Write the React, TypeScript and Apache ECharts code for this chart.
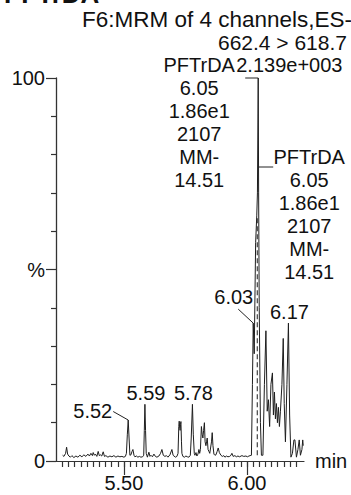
import React, { useEffect, useRef } from "react";
import * as echarts from "echarts";

const FONT = "'Liberation Sans', Arial, Helvetica, sans-serif";

// Retention times (min) and relative intensities (%)
const times = [
  5.2508, 5.2561, 5.263, 5.2671, 5.2712, 5.2764, 5.2825, 5.2886, 5.2967, 5.3049,
  5.313, 5.3211, 5.3293, 5.3374, 5.3455, 5.3537, 5.3598, 5.3659, 5.372, 5.3752,
  5.38, 5.3841, 5.39, 5.3955, 5.4, 5.4045, 5.41, 5.4159, 5.421, 5.4268,
  5.435, 5.4431, 5.4512, 5.4593, 5.4675, 5.4756, 5.4837, 5.4919, 5.5, 5.5061,
  5.5102, 5.514, 5.5175, 5.521, 5.5244, 5.5285, 5.533, 5.5366, 5.541, 5.5447,
  5.551, 5.5569, 5.563, 5.5691, 5.576, 5.5805, 5.583, 5.5854, 5.588, 5.5907,
  5.5955, 5.6016, 5.606, 5.6098, 5.616, 5.622, 5.628, 5.6341, 5.6423, 5.649,
  5.6545, 5.66, 5.6667, 5.673, 5.6789, 5.687, 5.6951, 5.7, 5.7033, 5.71,
  5.7154, 5.72, 5.723, 5.7248, 5.727, 5.7285, 5.73, 5.7317, 5.734, 5.7358,
  5.7398, 5.746, 5.752, 5.758, 5.7642, 5.77, 5.7736, 5.7785, 5.782, 5.786,
  5.7886, 5.793, 5.7967, 5.801, 5.8049, 5.808, 5.811, 5.815, 5.818, 5.8211,
  5.824, 5.8272, 5.83, 5.8333, 5.836, 5.8386, 5.842, 5.8455, 5.849, 5.8516,
  5.856, 5.8589, 5.862, 5.8659, 5.87, 5.874, 5.879, 5.8833, 5.888, 5.8943,
  5.9, 5.906, 5.9106, 5.917, 5.9228, 5.93, 5.935, 5.939, 5.944, 5.9512,
  5.957, 5.9634, 5.97, 5.9797, 5.987, 5.9959, 6.002, 6.0081, 6.013, 6.0183,
  6.0224, 6.0256, 6.0297, 6.0354, 6.04, 6.0427, 6.0459, 6.0476, 6.05, 6.0549,
  6.0589, 6.065, 6.0711, 6.0772, 6.0825, 6.0874, 6.0923, 6.0976, 6.1037, 6.1077,
  6.1118, 6.1159, 6.1199, 6.124, 6.128, 6.1321, 6.1362, 6.1423, 6.1476, 6.1516,
  6.1565, 6.1626, 6.1687, 6.1736, 6.1789, 6.185, 6.1911, 6.1951, 6.2012, 6.2073,
  6.2126, 6.2175, 6.2236, 6.2268, 6.2289,
];
const intensities = [
  1.5, 1.2, 2, 3.6, 1.8, 1.3, 1.0, 1.4, 0.9, 1.3,
  1.0, 1.5, 1.1, 1.6, 1.2, 1.8, 1.3, 2.0, 1.4, 2.2,
  1.5, 1.8, 1.2, 2.5, 1.4, 1.6, 1.3, 2.4, 1.2, 1.4,
  1.0, 1.3, 1.1, 1.4, 1.0, 1.3, 1.1, 1.2, 1.0, 1.2,
  2.0, 7.0, 10.7, 6.0, 1.5, 1.6, 2.5, 3.0, 1.5, 1.1,
  1.3, 1.0, 1.2, 1.0, 1.1, 1.5, 8, 14.8, 8, 2.0,
  1.0, 2.3, 1.2, 1.5, 1.1, 1.8, 1.2, 1.0, 1.3, 2.0,
  3.0, 1.5, 1.2, 1.4, 1.0, 1.6, 3.0, 1.5, 1.3, 1.0,
  1.2, 2, 9, 10.4, 8.5, 8, 9.5, 10.3, 5, 2,
  1.2, 1.0, 1.3, 1.1, 1.0, 1.5, 6, 14.8, 7, 2,
  1.5, 2.2, 1.3, 1.8, 3.0, 2, 3, 9.0, 7, 6.0,
  8, 10.0, 5, 4.0, 5, 6.0, 3, 2.5, 2, 2,
  5, 7.4, 4, 1.8, 1.5, 1.6, 2.5, 3.4, 2.2, 1.5,
  1.2, 1.4, 1.0, 1.3, 1.1, 1.2, 1.5, 2.0, 1.2, 1.4,
  1.1, 1.3, 1.1, 1.4, 1.2, 1.3, 1.1, 1.3, 1.4, 1.5,
  20, 36, 28, 57, 64, 70, 100, 70, 40, 10,
  1.5, 1.5, 20, 34, 13, 16, 9, 20, 23, 12,
  18, 11, 15, 10, 14, 9, 13, 20, 32, 15,
  5, 20, 36, 12, 1, 2, 5.5, 5.5, 1, 3,
  5.5, 1.5, 3, 5.5, 4,
];

// Integration marker (dashed) under the main peak
const markerTime = 6.042;
const markerRange = [1.5, 64];

// Axes
const xRange = [5.224, 6.232];
const xMajorTicks = [5.5, 6.0];
const xTickLabels = ["5.50", "6.00"];
const xMinorTicks = [
  5.25, 5.275, 5.3, 5.325, 5.35, 5.375, 5.4, 5.425, 5.45, 5.475,
  5.5, 5.525, 5.55, 5.575, 5.6, 5.625, 5.65, 5.675, 5.7, 5.725,
  5.75, 5.775, 5.8, 5.825, 5.85, 5.875, 5.9, 5.925, 5.95, 5.975,
  6.0, 6.025, 6.05, 6.075, 6.1, 6.125, 6.15, 6.175, 6.2,
];
const yTickValues = [0, 50, 100];
const yTickLabels = ["0", "%", "100"];

// Peak annotations
const peakTimes = [5.5175, 5.5854, 5.7785, 6.0256, 6.1687];
const peakValues = [10.7, 14.8, 14.8, 36, 36];
const peakTexts = ["5.52", "5.59", "5.78", "6.03", "6.17"];

const mainPeak = [6.0459, 100];
const mainPeakInfo = ["PFTrDA", "6.05", "1.86e1", "2107", "MM-", "14.51"];
const headerLines = ["F6:MRM of 4 channels,ES-", "662.4 > 618.7"];
const maxIntensity = "2.139e+003";
const panelTitle = "PFTrDA";

export default function App() {
  const ref = useRef<HTMLDivElement>(null);
  useEffect(() => {
    const el = ref.current!;
    const chart = echarts.init(el, null, { renderer: "svg" });
    const lineColor = "#1e1e1e";
    const axisColor = "#333";
    const fs = 20;
    const option: any = {
      animation: false,
      backgroundColor: "#fff",
      grid: { left: 56, top: 78, width: 248, height: 383, containLabel: false },
      xAxis: [
        {
          type: "value",
          min: xRange[0],
          max: xRange[1],
          axisLine: { show: true, onZero: false, lineStyle: { color: axisColor, width: 1.2 } },
          axisTick: { show: true, customValues: xMajorTicks, length: 14, lineStyle: { color: axisColor, width: 1.2 } },
          axisLabel: {
            customValues: xMajorTicks,
            formatter: (v: number) => xTickLabels[xMajorTicks.findIndex((m) => Math.abs(m - v) < 1e-6)] ?? "",
            margin: 12,
            color: "#111",
            fontSize: fs,
            fontFamily: FONT,
          },
          splitLine: { show: false },
          name: "min",
          nameLocation: "end",
          nameGap: 11,
          nameTextStyle: { color: "#111", fontSize: fs, fontFamily: FONT },
        },
        {
          type: "value",
          min: xRange[0],
          max: xRange[1],
          position: "bottom",
          offset: 2,
          axisLine: { show: false },
          axisTick: { show: true, customValues: xMinorTicks, length: 6, lineStyle: { color: axisColor, width: 1.2 } },
          axisLabel: { show: false },
          splitLine: { show: false },
        },
      ],
      yAxis: [
        {
          type: "value",
          min: 0,
          max: 100,
          interval: 50,
          axisLine: { show: true, lineStyle: { color: axisColor, width: 1.3 } },
          axisTick: { show: true, length: 10, lineStyle: { color: axisColor, width: 1.2 } },
          minorTick: { show: true, splitNumber: 5, length: 5, lineStyle: { color: axisColor, width: 1.2 } },
          axisLabel: {
            formatter: (v: number) => yTickLabels[yTickValues.indexOf(v)] ?? "",
            margin: 11,
            color: "#111",
            fontSize: fs,
            fontFamily: FONT,
          },
          splitLine: { show: false },
        },
      ],
      series: [
        {
          type: "line",
          xAxisIndex: 0,
          yAxisIndex: 0,
          data: times.map((t, i) => [t, intensities[i]]),
          symbol: "none",
          lineStyle: { color: lineColor, width: 1 },
          silent: true,
        },
        {
          type: "line",
          xAxisIndex: 0,
          yAxisIndex: 0,
          data: [
            [markerTime, markerRange[0]],
            [markerTime, markerRange[1]],
          ],
          symbol: "none",
          lineStyle: { color: lineColor, width: 1, type: [5, 3] },
          silent: true,
        },
      ],
    };
    chart.setOption(option);

    const P = (t: number, v: number) =>
      chart.convertToPixel({ seriesIndex: 0 }, [t, v]) as number[];
    const txt = (text: string, x: number, y: number, align: string, size = fs) => ({
      type: "text",
      x,
      y,
      silent: true,
      style: {
        text,
        fill: "#111",
        fontSize: size,
        fontFamily: FONT,
        textAlign: align,
        align,
        textVerticalAlign: "middle",
        verticalAlign: "middle",
      },
    });
    const seg = (x1: number, y1: number, x2: number, y2: number) => ({
      type: "line",
      silent: true,
      shape: { x1, y1, x2, y2 },
      style: { stroke: "#222", lineWidth: 1 },
    });

    const g: any[] = [];
    // panel title (cut by the top edge)
    g.push({
      type: "text",
      x: 4,
      y: -19,
      silent: true,
      style: { text: panelTitle, fill: "#111", fontSize: 26, fontWeight: "bold", fontFamily: FONT },
    });
    // header
    g.push(txt(headerLines[0], 352, 19, "right", 22.5));
    g.push(txt(headerLines[1], 347, 42, "right", 21));

    // peak labels
    peakTimes.forEach((t, i) => {
      const [px, py] = P(t, peakValues[i]);
      const label = peakTexts[i];
      if (i === 0) {
        g.push(txt(label, px - 16, py - 9, "right"));
        g.push(seg(px - 15, py - 8.5, px, py));
      } else if (i === 3) {
        g.push(txt(label, px, py - 26, "right"));
        g.push(seg(px - 15, py - 14, px, py));
      } else {
        g.push(txt(label, px + 1, py - 11, "center"));
      }
    });

    // main peak labels
    const [mx, my] = P(mainPeak[0], mainPeak[1]);
    mainPeakInfo.forEach((s, k) => {
      g.push(txt(s, mx - 59, my - 13 + 23 * k, "center"));
    });
    g.push(txt(maxIntensity, mx - 22, my - 13, "left"));
    g.push(seg(mx - 13, my, mx, my));
    mainPeakInfo.forEach((s, k) => {
      g.push(txt(s, mx + 51, my + 79 + 23 * k, "center"));
    });
    g.push(seg(mx + 0.7, my + 89, mx + 15, my + 89));

    chart.setOption({ graphic: g });
    return () => chart.dispose();
  }, []);
  return (
    <div
      ref={ref}
      style={{ position: "fixed", left: 0, top: 0, width: 351, height: 495, background: "#fff" }}
    />
  );
}
